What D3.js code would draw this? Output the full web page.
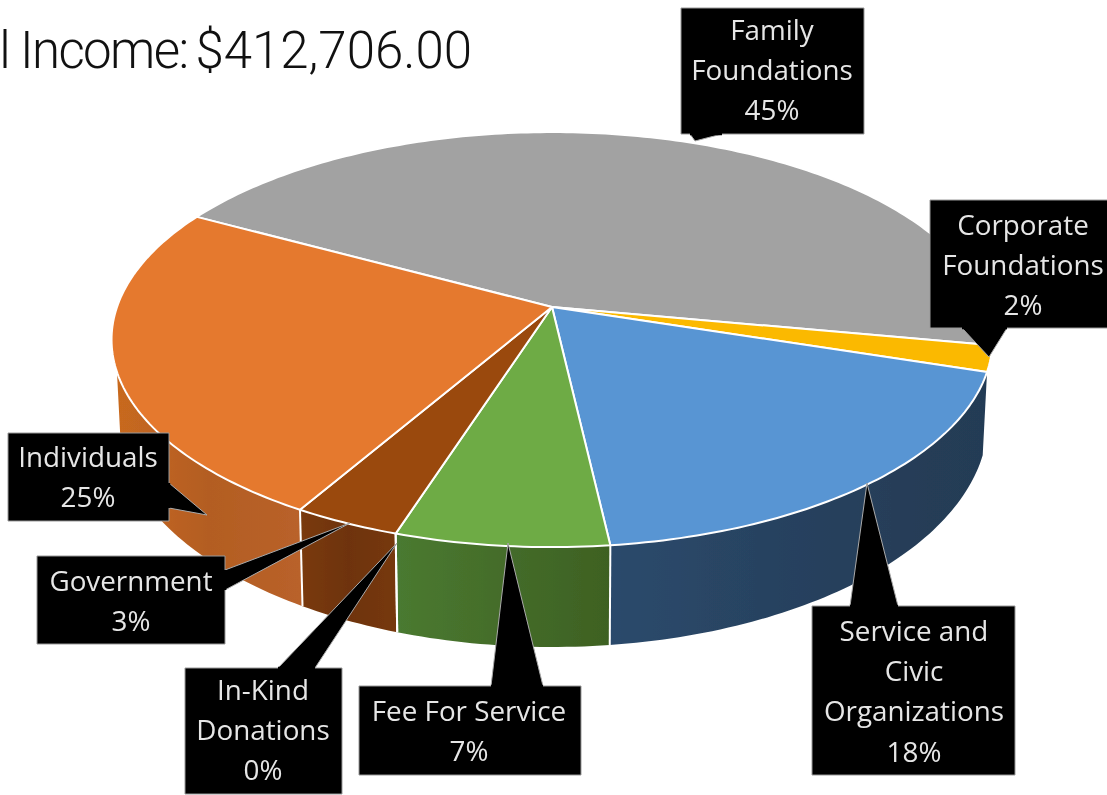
<!DOCTYPE html>
<html><head><meta charset="utf-8">
<script src="https://cdn.jsdelivr.net/npm/d3@7"></script>
<style>html,body{margin:0;padding:0;background:#fff;overflow:hidden}svg{display:block}</style>
</head><body><svg id="c" width="1107" height="795"></svg>
<script>
// ---- data ----
const categories = ["Family Foundations","Corporate Foundations","Service and Civic Organizations","Fee For Service","In-Kind Donations","Government","Individuals"];
const values = [45, 2, 18.25, 6.75, 0, 3.4, 24.6];
const labelLines = [["Family","Foundations"],["Corporate","Foundations"],["Service and","Civic","Organizations"],["Fee For Service"],["In-Kind","Donations"],["Government"],["Individuals"]];
const titleLead = "Total Income:";
const titleAmount = "$412,706.00";

// ---- styles ----
const topColors = ["#A2A2A2","#FBB900","#5995D3","#6EAB45","#9A480C","#9A480C","#E5792E"];
const wallStops = [null,null,["#2B4A6C","#27415E","#243B54"],["#4A7A30","#446C2A","#3E6122"],null,["#7A3A0B","#6E3307","#763809"],["#C8691F","#B35D22","#B9622A"]];

// ---- layout: callout boxes and pointers ----
const boxes = [
 {x:681,y:8,w:183,h:126,tx:772,ly:30,ptr:[[690,134],[695,141],[722,134]]},
 {x:930,y:200,w:180,h:128,tx:1023,ly:225,ptr:[[1007,328],[989,357],[962,328]]},
 {x:812,y:606,w:203,h:169,tx:914,ly:631,ptr:[[850,606],[867,483],[898,606]]},
 {x:359,y:686,w:222,h:89,tx:469,ly:711,ptr:[[491,686],[508,543],[543,686]]},
 {x:185,y:668,w:157,h:126,tx:263,ly:690,ptr:[[278,668],[397,543],[315,668]]},
 {x:37,y:556,w:188,h:88,tx:131,ly:581,ptr:[[225,570],[350,523],[225,590]]},
 {x:8,y:433,w:161,h:88,tx:88,ly:457,ptr:[[169,483],[207,515],[169,508]]}
];

const rad = d => d*Math.PI/180;
const cx=552, cy=307, R=435, Rz=202.4, p=0.157;
const bc={y:420,rx:436,ry:227,k:0.99};
const project = a => { const u=Math.sin(a), v=-Math.cos(a), s=1/(1-p*v); return [cx+R*u*s, cy+Rz*v*s]; };
const base = q => { const dx=(q[0]-cx)*bc.k, f=Math.min(1,Math.abs(dx)/bc.rx); return [cx+dx, bc.y+bc.ry*Math.sqrt(1-f*f)]; };
const arcPts = (a0,a1) => { const n=Math.max(1,Math.ceil(Math.abs(a1-a0)/rad(1))); return d3.range(n+1).map(i=>project(a0+(a1-a0)*i/n)); };

const svg=d3.select("#c");
const defs=svg.append("defs");
defs.append("filter").attr("id","soft").attr("x","-5%").attr("y","-5%").attr("width","110%").attr("height","110%")
  .append("feGaussianBlur").attr("stdDeviation",0.55);

const pie=d3.pie().sort(null).value(d=>d).startAngle(rad(-61.4)).endAngle(rad(298.6));
const arcs=pie(values);
const line=d3.line();
const wallLo=rad(107.8), wallHi=rad(252.2);

const chart=svg.append("g").attr("filter","url(#soft)");

// side walls
arcs.forEach((d,i)=>{
  const a0=Math.max(d.startAngle,wallLo), a1=Math.min(d.endAngle,wallHi);
  if(a1<=a0||!wallStops[i]) return;
  const top=arcPts(a0,a1), bot=top.map(base).reverse();
  const id="wall"+i, xs=top.map(q=>q[0]);
  const g=defs.append("linearGradient").attr("id",id).attr("gradientUnits","userSpaceOnUse")
    .attr("x1",d3.min(xs)).attr("x2",d3.max(xs)).attr("y1",0).attr("y2",0);
  wallStops[i].forEach((c,j,a)=>g.append("stop").attr("offset",j/(a.length-1)).attr("stop-color",c));
  chart.append("path").attr("d",line(top.concat(bot))+"Z").attr("fill",`url(#${id})`);
});
// white seams between walls
arcs.forEach(d=>{
  if(d.startAngle<wallLo+1e-6||d.startAngle>wallHi) return;
  const t=project(d.startAngle);
  chart.append("path").attr("d",line([t,base(t)])).attr("stroke","#fff").attr("stroke-width",2).attr("fill","none");
});
// top faces
arcs.forEach((d,i)=>{
  if(d.endAngle-d.startAngle<1e-6) return;
  chart.append("path").attr("d",line([[cx,cy]].concat(arcPts(d.startAngle,d.endAngle)))+"Z")
    .attr("fill",topColors[i]).attr("stroke","#fff").attr("stroke-width",2).attr("stroke-linejoin","round");
});

// title
const title=svg.append("text").attr("x",472).attr("y",68).attr("text-anchor","end")
  .attr("font-family","Roboto").attr("font-weight",300).attr("font-size",51).attr("fill","#111");
title.append("tspan").attr("letter-spacing",-1.6).text(titleLead+" ");
title.append("tspan").attr("dx",-3).attr("letter-spacing",0).text(titleAmount);

// callouts
const lab=svg.append("g").attr("filter","url(#soft)");
arcs.forEach((d,i)=>{
  const b=boxes[i];
  const poly=b.ptr;
  lab.append("path").attr("d",line([[b.x,b.y],[b.x+b.w,b.y],[b.x+b.w,b.y+b.h],[b.x,b.y+b.h]])+"Z")
    .attr("fill","#000").attr("stroke","#999").attr("stroke-width",1);
  lab.append("path").attr("d",line(poly)).attr("fill","#000").attr("stroke","#aaa").attr("stroke-width",1);
  lab.append("path").attr("d",line([poly[0],poly[2]])).attr("stroke","#000").attr("stroke-width",2.5);
  labelLines[i].concat([Math.round(d.value)+"%"]).forEach((t,j)=>{
    lab.append("text").attr("x",b.tx).attr("y",b.ly+j*40.3).attr("dy","0.35em").attr("text-anchor","middle")
      .attr("font-family","Open Sans").attr("font-weight",500).attr("font-size",27.8).attr("fill","#E6E6E6").text(t);
  });
});
</script></body></html>
